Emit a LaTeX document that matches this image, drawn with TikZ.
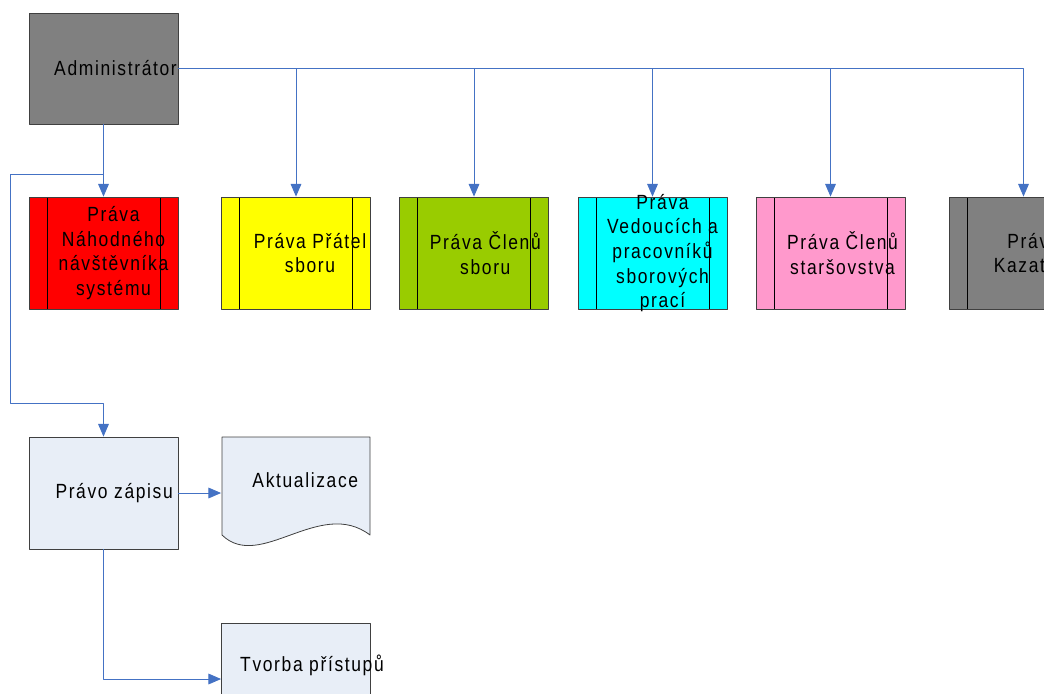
\documentclass[tikz,border=0pt]{standalone}
\usepackage{fontspec}
\setmainfont{Liberation Sans}[FakeStretch=0.85,LetterSpace=8]
\usetikzlibrary{arrows.meta}
\definecolor{linkblue}{RGB}{68,114,196}
\definecolor{admgray}{RGB}{128,128,128}
\definecolor{pravared}{RGB}{255,0,0}
\definecolor{pravayellow}{RGB}{255,255,0}
\definecolor{pravagreen}{RGB}{153,204,0}
\definecolor{pravacyan}{RGB}{0,255,255}
\definecolor{pravapink}{RGB}{255,153,204}
\definecolor{zapis}{RGB}{232,238,247}
\tikzstyle{arrow} = [draw=linkblue, line width=0.75pt, -{Triangle[width=8pt,length=9.5pt]}]
\tikzstyle{line} = [draw=linkblue, line width=0.75pt]
\tikzstyle{box} = [draw=black!75, line width=0.6pt, minimum width=111.75pt, minimum height=84pt, inner sep=0pt]
\tikzstyle{prava} = [box, path picture={
    \draw[black, line width=0.6pt] ([xshift=13.5pt]path picture bounding box.north west) -- ([xshift=13.5pt]path picture bounding box.south west);
    \draw[black, line width=0.6pt] ([xshift=-13.5pt]path picture bounding box.north east) -- ([xshift=-13.5pt]path picture bounding box.south east);}]
\tikzstyle{txt} = [align=center, inner sep=0pt, font=\fontsize{15.4}{18.5}\selectfont]

\begin{document}
\begin{tikzpicture}[x=0.75pt, y=-0.75pt, line join=round]
  \useasboundingbox (0,0) rectangle (1044,693);
  \clip (0,0) rectangle (1044,693);
  % top row
  \node[box, fill=admgray, minimum height=83.25pt] (adm) at (103.5,68.5) {};
  \node[prava, fill=pravared] (red) at (103.5,253) {};
  \node[prava, fill=pravayellow] (yel) at (296,253) {};
  \node[prava, fill=pravagreen] (grn) at (474,253) {};
  \node[prava, fill=pravacyan] (cya) at (652.5,253) {};
  \node[prava, fill=pravapink] (pnk) at (830.5,253) {};
  \node[prava, fill=admgray] (kaz) at (1023.5,253) {};
  % bottom part
  \node[box, fill=zapis] (zap) at (103.5,493) {};
  \node[box, draw=none] (akt) at (296,493) {};
  \draw[fill=zapis, draw=black!75, line width=0.6pt] (222,437) -- (370,437) -- (370,535)
    .. controls (320,497) and (260,572) .. (222,535) -- cycle;
  \node[box, fill=zapis] (tvo) at (296,679) {};
  % texts
  \node[txt] (admt) at ([xshift=9pt]adm.center) {Administrátor};
  \node[txt] (redt) at ([xshift=7.5pt]red.center) {Práva\\Náhodného\\návštěvníka\\systému};
  \node[txt] (yelt) at ([xshift=10.5pt]yel.center) {Práva Přátel\\sboru};
  \node[txt] (grnt) at ([xshift=8.5pt]grn.center) {Práva Členů\\sboru};
  \node[txt] (cyat) at ([xshift=7.5pt]cya.center) {Práva\\Vedoucích a\\pracovníků\\sborových\\prací};
  \node[txt] (pnkt) at ([xshift=9pt]pnk.center) {Práva Členů\\staršovstva};
  \node[txt] (kazt) at ([xshift=7.5pt]kaz.center) {Práva\\Kazatele};
  \node[txt] (zapt) at ([xshift=8pt]zap.center) {Právo zápisu};
  \node[txt] (aktt) at ([xshift=7pt,yshift=9.75pt]akt.center) {Aktualizace};
  \node[txt] (tvot) at ([xshift=12pt,yshift=10.5pt]tvo.center) {Tvorba přístupů};
  % connectors
  \coordinate (bendA) at (10,174);
  \coordinate (bendB) at (10,403);
  \draw[arrow] (adm.south) -- (red.north);
  \draw[arrow] (adm.east) -| (yel.north);
  \draw[arrow] (adm.east) -| (grn.north);
  \draw[arrow] (adm.east) -| (cya.north);
  \draw[arrow] (adm.east) -| (pnk.north);
  \draw[arrow] (adm.east) -| (kaz.north);
  \draw[arrow] (adm.south) |- (bendA) -- (bendB) -| (zap.north);
  \draw[arrow] (zap.east) -- (akt.west);
  \draw[arrow] (zap.south) |- (tvo.west);
\end{tikzpicture}
\end{document}
